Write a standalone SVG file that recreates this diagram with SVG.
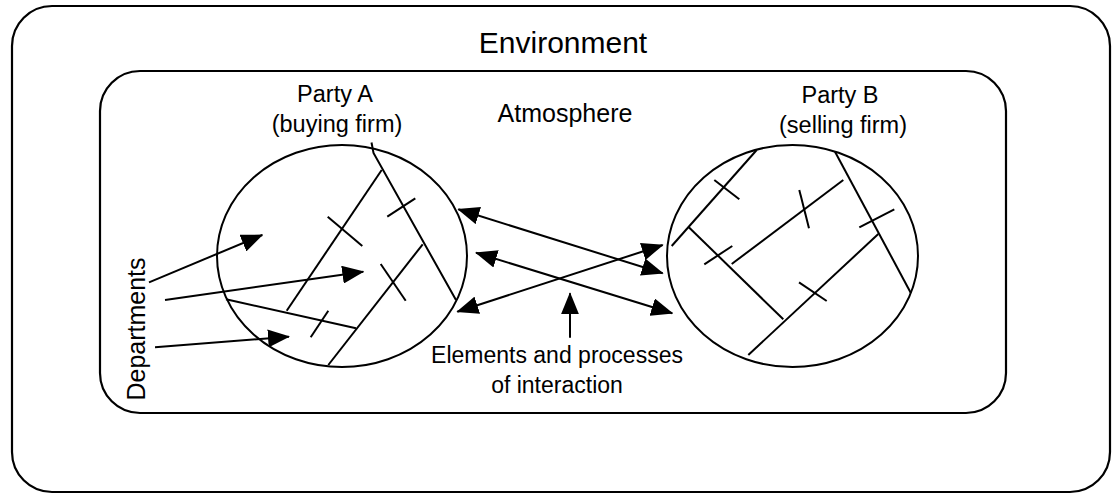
<svg xmlns="http://www.w3.org/2000/svg" width="1115" height="494" viewBox="0 0 1115 494">
<style>
.box{fill:none;stroke:#000;stroke-width:2.2}
.ln{fill:none;stroke:#000;stroke-width:2}
.t{font-family:"Liberation Sans",Arial,sans-serif;fill:#000;text-anchor:middle}
</style>
<defs>
<marker id="ah" viewBox="0 0 22 18" refX="21" refY="9" markerWidth="22" markerHeight="18" markerUnits="userSpaceOnUse" orient="auto-start-reverse">
<path d="M0,0 L22,9 L0,18 z" fill="#000"/>
</marker>
</defs>
<rect width="1115" height="494" fill="#fff"/>
<g id="environment">
<rect class="box" x="12" y="6" width="1098" height="486" rx="40" ry="40"/>
<text class="t" x="563" y="53" font-size="30">Environment</text>
</g>
<g id="atmosphere">
<rect class="box" x="100" y="71" width="906" height="342" rx="40" ry="40"/>
<text class="t" x="565" y="122" font-size="25">Atmosphere</text>
</g>
<g id="partyA">
<text class="t" x="335" y="102" font-size="23.5">Party A</text>
<text class="t" x="337" y="132" font-size="23.5">(buying firm)</text>
<ellipse class="ln" cx="342" cy="256" rx="125" ry="111"/>
<polyline class="ln" points="371.5,142.5 373.5,153 456,300"/>
<line class="ln" x1="381.7" y1="170" x2="286.7" y2="310.7"/>
<line class="ln" x1="422.7" y1="244.3" x2="328.3" y2="365"/>
<line class="ln" x1="226" y1="299.3" x2="356" y2="328.3"/>
<line class="ln" x1="327.7" y1="216.7" x2="362.3" y2="246"/>
<line class="ln" x1="387.3" y1="216.7" x2="415.3" y2="198.3"/>
<line class="ln" x1="380.7" y1="264" x2="405.7" y2="300.7"/>
<line class="ln" x1="328.3" y1="310.7" x2="310.7" y2="337.3"/>
</g>
<g id="partyB">
<text class="t" x="840" y="103" font-size="23.5">Party B</text>
<text class="t" x="843" y="133" font-size="23.5">(selling firm)</text>
<ellipse class="ln" cx="792.5" cy="256" rx="125.5" ry="111"/>
<line class="ln" x1="756.7" y1="150" x2="671.7" y2="246"/>
<line class="ln" x1="688.3" y1="226.7" x2="783.3" y2="319.3"/>
<line class="ln" x1="731.7" y1="264" x2="843.3" y2="180"/>
<line class="ln" x1="835" y1="151.7" x2="910.7" y2="292.7"/>
<line class="ln" x1="878.3" y1="234" x2="748.3" y2="355"/>
<line class="ln" x1="714.3" y1="180" x2="739.3" y2="199.3"/>
<line class="ln" x1="799.3" y1="190" x2="809" y2="228.3"/>
<line class="ln" x1="859.3" y1="227.3" x2="894.3" y2="209.3"/>
<line class="ln" x1="704.3" y1="264.3" x2="732.3" y2="246"/>
<line class="ln" x1="799" y1="282.3" x2="826.7" y2="301"/>
</g>
<g id="departments">
<text class="t" font-size="25" transform="translate(145,329) rotate(-90)">Departments</text>
</g>
<g id="elements">
<text class="t" x="557" y="363" font-size="23">Elements and processes</text>
<text class="t" x="557" y="393" font-size="23">of interaction</text>
</g>
<g id="connectors">
<line class="ln" x1="149" y1="282.3" x2="262.3" y2="235" marker-end="url(#ah)"/>
<line class="ln" x1="165" y1="300" x2="363.3" y2="271.7" marker-end="url(#ah)"/>
<line class="ln" x1="155" y1="347.3" x2="289" y2="336.7" marker-end="url(#ah)"/>
<line class="ln" x1="458.3" y1="209.3" x2="662.7" y2="273.3" marker-start="url(#ah)" marker-end="url(#ah)"/>
<line class="ln" x1="476" y1="252.7" x2="672.3" y2="313.3" marker-start="url(#ah)" marker-end="url(#ah)"/>
<line class="ln" x1="457.3" y1="311.7" x2="662.7" y2="245" marker-start="url(#ah)" marker-end="url(#ah)"/>
<line class="ln" x1="570" y1="337.7" x2="570" y2="293.3" marker-end="url(#ah)"/>
</g>
</svg>
